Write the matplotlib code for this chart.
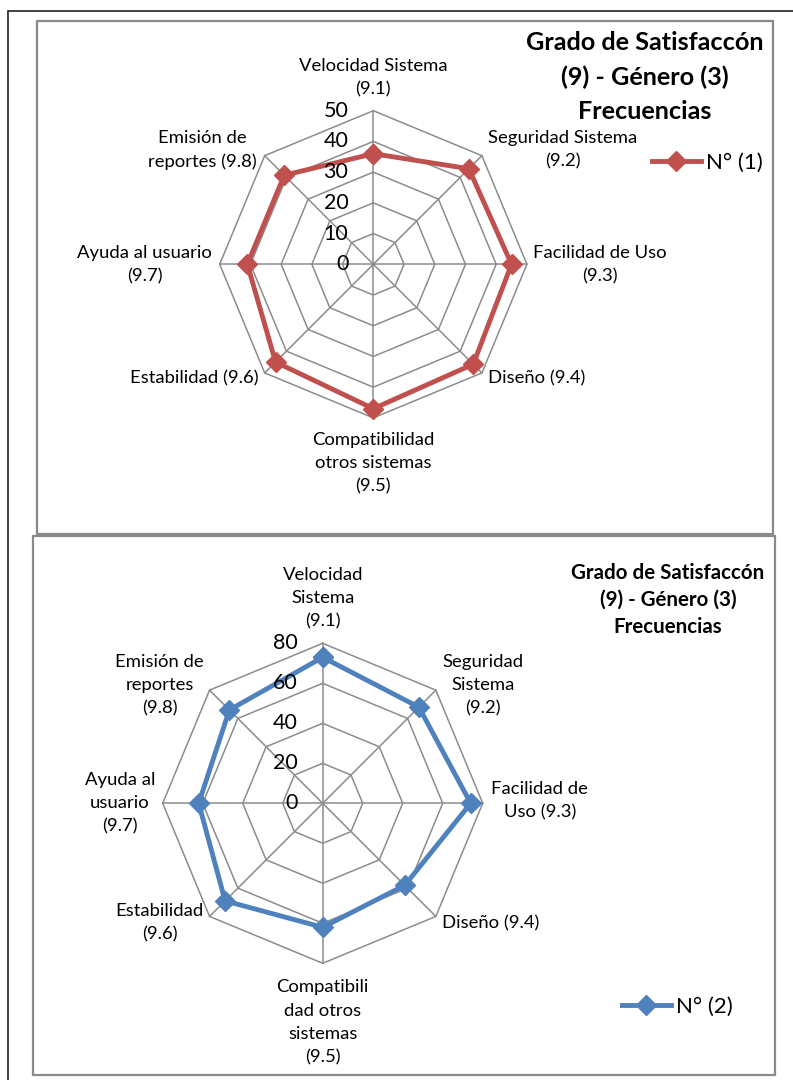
import numpy as np
import matplotlib.pyplot as plt
from matplotlib.patches import Rectangle

plt.rcParams['font.family'] = ['Lato', 'DejaVu Sans']

# Grado de satisfaccion (9) por genero (3), frecuencias
labels_n1 = ['Velocidad Sistema\n(9.1)', 'Seguridad Sistema\n(9.2)', 'Facilidad de Uso\n(9.3)',
             'Diseño (9.4)', 'Compatibilidad\notros sistemas\n(9.5)', 'Estabilidad (9.6)',
             'Ayuda al usuario\n(9.7)', 'Emisión de\nreportes (9.8)']
labels_n2 = ['Velocidad\nSistema\n(9.1)', 'Seguridad\nSistema\n(9.2)', 'Facilidad de\nUso (9.3)',
             'Diseño (9.4)', 'Compatibili\ndad otros\nsistemas\n(9.5)', 'Estabilidad\n(9.6)',
             'Ayuda al\nusuario\n(9.7)', 'Emisión de\nreportes\n(9.8)']
values_n1 = [36, 44, 45, 46, 47, 45, 41, 41]
values_n2 = [73, 68, 74, 58, 62, 69, 62, 66]
ticks_n1 = [0, 10, 20, 30, 40, 50]
ticks_n2 = [0, 20, 40, 60, 80]

title = 'Grado de Satisfaccón\n(9) - Género (3)\nFrecuencias'

# label offsets from each outer vertex, in pixels (dx right, dy down)
offsets_n1 = [(0, -33, 'center'), (81, -6, 'center'), (73, 0, 'center'), (6, 5, 'left'),
              (0, 45, 'center'), (-6, 5, 'right'), (-75, 0, 'center'), (-62, -6, 'center')]
offsets_n2 = [(0, -45, 'center'), (47, -5, 'center'), (57, -3, 'center'), (6, 7, 'left'),
              (0, 59, 'center'), (-50, 6, 'center'), (-43, 0, 'center'), (-50, -5, 'center')]

W, H = 793, 1080
fig = plt.figure(figsize=(W / 100, H / 100), dpi=100)
PT = 0.72  # points per pixel at 100 dpi


def px_box(x0, y0, x1, y1):
    return [x0 / W, 1 - y1 / H, (x1 - x0) / W, (y1 - y0) / H]


def radar(rect, labels, offsets, values, ticks, color, name, lab_size):
    ax = fig.add_axes(rect, projection='polar')
    ax.set_theta_zero_location('N')
    ax.set_theta_direction(-1)
    rmax = ticks[-1]
    ax.set_ylim(0, rmax)
    ax.grid(False)
    ax.spines['polar'].set_visible(False)
    ax.set_xticks([])
    ax.set_yticks([])
    n = len(values)
    theta = np.linspace(0, 2 * np.pi, n, endpoint=False)
    tc = np.append(theta, theta[0])
    for t in ticks[1:]:
        ax.plot(tc, [t] * (n + 1), color='#8c8c8c', lw=1.1, clip_on=False, zorder=1)
    for th in theta:
        ax.plot([th, th], [0, rmax], color='#8c8c8c', lw=1.1, clip_on=False, zorder=1)
    vc = np.append(values, values[0])
    line, = ax.plot(tc, vc, color=color, lw=3.5, marker='D', ms=10, label=name,
                    clip_on=False, zorder=3)
    for t in ticks:
        ax.annotate(str(t), xy=(0, t), xytext=(-18, 0), textcoords='offset points',
                    ha='right', va='center', fontsize=15.5, zorder=5, annotation_clip=False)
    for lab, th, (dx, dy, ha) in zip(labels, theta, offsets):
        ax.annotate(lab, xy=(th, rmax), xytext=(dx * PT, -dy * PT), textcoords='offset points',
                    ha=ha, va='center', multialignment='center', fontsize=lab_size,
                    linespacing=1.55, annotation_clip=False)
    return ax, line


# outer frame and the two panel borders
fig.add_artist(Rectangle((8 / W, -0.01), 1, 1 - 11 / H + 0.01, transform=fig.transFigure,
                         fill=False, ec='#222222', lw=1.2))
fig.add_artist(Rectangle(px_box(37, 21, 773, 534)[:2], *px_box(37, 21, 773, 534)[2:],
                         transform=fig.transFigure, fill=False, ec='#8a8a8a', lw=1.6))
fig.add_artist(Rectangle(px_box(33, 536, 775, 1075)[:2], *px_box(33, 536, 775, 1075)[2:],
                         transform=fig.transFigure, fill=False, ec='#8a8a8a', lw=1.6))

ax1, l1 = radar(px_box(373.3 - 153.6, 264.3 - 153.6, 373.3 + 153.6, 264.3 + 153.6),
                labels_n1, offsets_n1, values_n1, ticks_n1, '#C0504D', 'N° (1)', 13.3)
ax2, l2 = radar(px_box(322.7 - 160, 803.3 - 160, 322.7 + 160, 803.3 + 160),
                labels_n2, offsets_n2, values_n2, ticks_n2, '#4F81BD', 'N° (2)', 13.3)

fig.text(645 / W, 1 - 77 / H, title, ha='center', va='center', fontsize=18.2,
         fontweight='bold', linespacing=1.58)
fig.text(668 / W, 1 - 600 / H, title, ha='center', va='center', fontsize=14.8,
         fontweight='bold', linespacing=1.45)

fig.legend(handles=[l1], loc='center left', bbox_to_anchor=(652 / W, 1 - 163 / H),
           frameon=False, fontsize=16, handlelength=2.2, handletextpad=0.25,
           borderpad=0, borderaxespad=0, numpoints=1)
fig.legend(handles=[l2], loc='center left', bbox_to_anchor=(622 / W, 1 - 1007 / H),
           frameon=False, fontsize=16, handlelength=2.2, handletextpad=0.25,
           borderpad=0, borderaxespad=0, numpoints=1)

fig.savefig('out.png', dpi=100)
